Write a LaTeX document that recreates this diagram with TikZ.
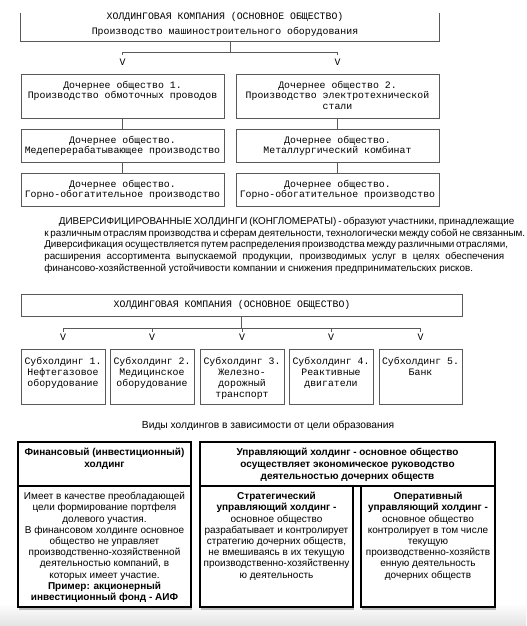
\documentclass[tikz,border=0pt]{standalone}
\usepackage{fontspec}
\setmainfont{Liberation Sans}
\newfontfamily\monof{Liberation Mono}
\usetikzlibrary{calc,fit}
\begin{document}
\begin{tikzpicture}[x=0.75pt,y=-0.75pt,
  mline/.style={draw=black!65, line width=0.75pt},
  mbox/.style={mline, fill=white, inner sep=0pt},
  mtext/.style={font=\monof\fontsize{7.4}{8.2}\selectfont, align=center, inner sep=0pt, anchor=north},
  stxt/.style={font=\fontsize{7.5}{8.4}\selectfont, align=center, inner sep=0pt, anchor=north},
  sbold/.style={font=\bfseries\fontsize{7.5}{8.8}\selectfont, align=center, inner sep=0pt, anchor=north},
  tbox/.style={draw=black, line width=1.1pt, fill=white, inner sep=0pt},
  shadowl/.style={draw=black!28, line width=1.2pt}]
\useasboundingbox (0,0) rectangle (526,626);
\fill[white] (0,0) rectangle (526,626);
\shade[top color=white, bottom color=black!11] (0,603) rectangle (526,626);

% ---------- section 1 ----------
\node[inner sep=0pt, fit={(21,13) (439,41)}] (T) {};
\draw[mline] (T.north west) -- (T.south west) -- (T.south east) -- (T.north east);
\node[mtext] (Tt) at (225,12.5) {ХОЛДИНГОВАЯ КОМПАНИЯ (ОСНОВНОЕ ОБЩЕСТВО)\\[2.7pt]Производство машиностроительного оборудования};

\node[mbox, fit={(21,74) (224,118)}] (L1) {};
\node[mbox, fit={(236,74) (439,118)}] (R1) {};
\node[mbox, fit={(21,129) (224,162)}] (L2) {};
\node[mbox, fit={(236,129) (439,162)}] (R2) {};
\node[mbox, fit={(21,173) (224,206)}] (L3) {};
\node[mbox, fit={(236,173) (439,206)}] (R3) {};

\node[mtext] (L1t) at (122.5,80.5) {Дочернее общество 1.\\Производство обмоточных проводов};
\node[mtext] (R1t) at (337.5,80.5) {Дочернее общество 2.\\Производство электротехнической\\стали};
\node[mtext] (L2t) at (122.5,135.5) {Дочернее общество.\\Медеперерабатывающее производство};
\node[mtext] (R2t) at (337.5,135.5) {Дочернее общество.\\Металлургический комбинат};
\node[mtext] (L3t) at (122.5,179.5) {Дочернее общество.\\Горно-обогатительное производство};
\node[mtext] (R3t) at (337.5,179.5) {Дочернее общество.\\Горно-обогатительное производство};

\draw[mline] (T.south) -- ++(0,11) coordinate (j1);
\draw[mline] (L1.north |- j1) -- (R1.north |- j1);
\foreach \b in {L1,R1}{
  \draw[mline] (\b.north |- j1) -- ++(0,3);
  \node[mtext, anchor=center] at ($(\b.north)+(0,-11)$) {V};
}
\draw[mline] (L1) -- (L2);
\draw[mline] (L2) -- (L3);
\draw[mline] (R1) -- (R2);
\draw[mline] (R2) -- (R3);

% ---------- paragraph ----------
\node[anchor=north west, inner sep=0pt, font=\fontsize{7.4}{8.8}\selectfont] (para) at (44,217) {\vbox{\hsize=345pt
\hbox to 345pt{\hspace*{11pt}ДИВЕРСИФИЦИРОВАННЫЕ ХОЛДИНГИ (КОНГЛОМЕРАТЫ) - образуют участники, принадлежащие}
\hbox to 345pt{к различным отраслям производства и сферам деятельности, технологически между собой не связанным.}
\hbox to 345pt{Диверсификация осуществляется путем распределения производства между различными отраслями,}
\hbox to 345pt{расширения ассортимента выпускаемой продукции, производимых услуг в целях обеспечения}
\hbox{финансово-хозяйственной устойчивости компании и снижения предпринимательских рисков.}}};

% ---------- section 2 ----------
\node[mbox, fit={(21,294) (462,316)}] (H) {};
\node[mtext, anchor=center] (Ht) at (232,305) {ХОЛДИНГОВАЯ КОМПАНИЯ (ОСНОВНОЕ ОБЩЕСТВО)};
\node[mbox, fit={(21,349) (105,404)}] (S1) {};
\node[mbox, fit={(110,349) (194,404)}] (S2) {};
\node[mbox, fit={(200,349) (284,404)}] (S3) {};
\node[mbox, fit={(289,349) (373,404)}] (S4) {};
\node[mbox, fit={(379,349) (462,404)}] (S5) {};
\begin{scope}[every node/.append style={font=\monof\fontsize{7.4}{7.7}\selectfont}]
\node[mtext] (S1t) at (63,357) {Субхолдинг 1.\\Нефтегазовое\\оборудование};
\node[mtext] (S2t) at (152,357) {Субхолдинг 2.\\Медицинское\\оборудование};
\node[mtext] (S3t) at (242,357) {Субхолдинг 3.\\Железно-\\дорожный\\транспорт};
\node[mtext] (S4t) at (331,357) {Субхолдинг 4.\\Реактивные\\двигатели};
\node[mtext] (S5t) at (420.5,357) {Субхолдинг 5.\\Банк};
\end{scope}
\draw[mline] (H.south) -- ++(0,12) coordinate (j2);
\draw[mline] (S1.north |- j2) -- (S5.north |- j2);
\foreach \b in {S1,S2,S3,S4,S5}{
  \draw[mline] (\b.north |- j2) -- ++(0,3);
  \node[mtext, anchor=center] at ($(\b.north)+(0,-11)$) {V};
}

% ---------- table ----------
\node[font=\fontsize{7.7}{9}\selectfont, inner sep=0pt] (title) at (268,426) {Виды холдингов в зависимости от цели образования};

\foreach \a/\b in {18/191,200/353,361/495}{
  \draw[shadowl] (\a+1,609) -- (\b+1,609);
}
\node[tbox, fit={(18,442) (191,486)}] (FH) {};
\node[tbox, fit={(18,486) (191,607)}] (FB) {};
\node[tbox, fit={(200,442) (495,486)}] (UH) {};
\node[tbox, fit={(200,486) (353,607)}] (SB) {};
\node[tbox, fit={(361,486) (495,607)}] (OB) {};

\node[sbold] (FHt) at (104.5,448) {Финансовый (инвестиционный)\\холдинг};
\node[sbold] (UHt) at (347.5,448) {Управляющий холдинг - основное общество\\осуществляет экономическое руководство\\деятельностью дочерних обществ};
\node[stxt] (FBt) at (104.5,492) {Имеет в качестве преобладающей\\цели формирование портфеля\\долевого участия.\\В финансовом холдинге основное\\общество не управляет\\производственно-хозяйственной\\деятельностью компаний, в\\которых имеет участие.\\\textbf{Пример: акционерный}\\\textbf{инвестиционный фонд - АИФ}};
\node[stxt] (SBt) at (276.5,492) {\textbf{Стратегический}\\\textbf{управляющий холдинг -}\\основное общество\\разрабатывает и контролирует\\стратегию дочерних обществ,\\не вмешиваясь в их текущую\\производственно-хозяйственну\\ю деятельность};
\node[stxt] (OBt) at (428,492) {\textbf{Оперативный}\\\textbf{управляющий холдинг -}\\основное общество\\контролирует в том числе\\текущую\\производственно-хозяйств\\енную деятельность\\дочерних обществ};
\end{tikzpicture}
\end{document}
